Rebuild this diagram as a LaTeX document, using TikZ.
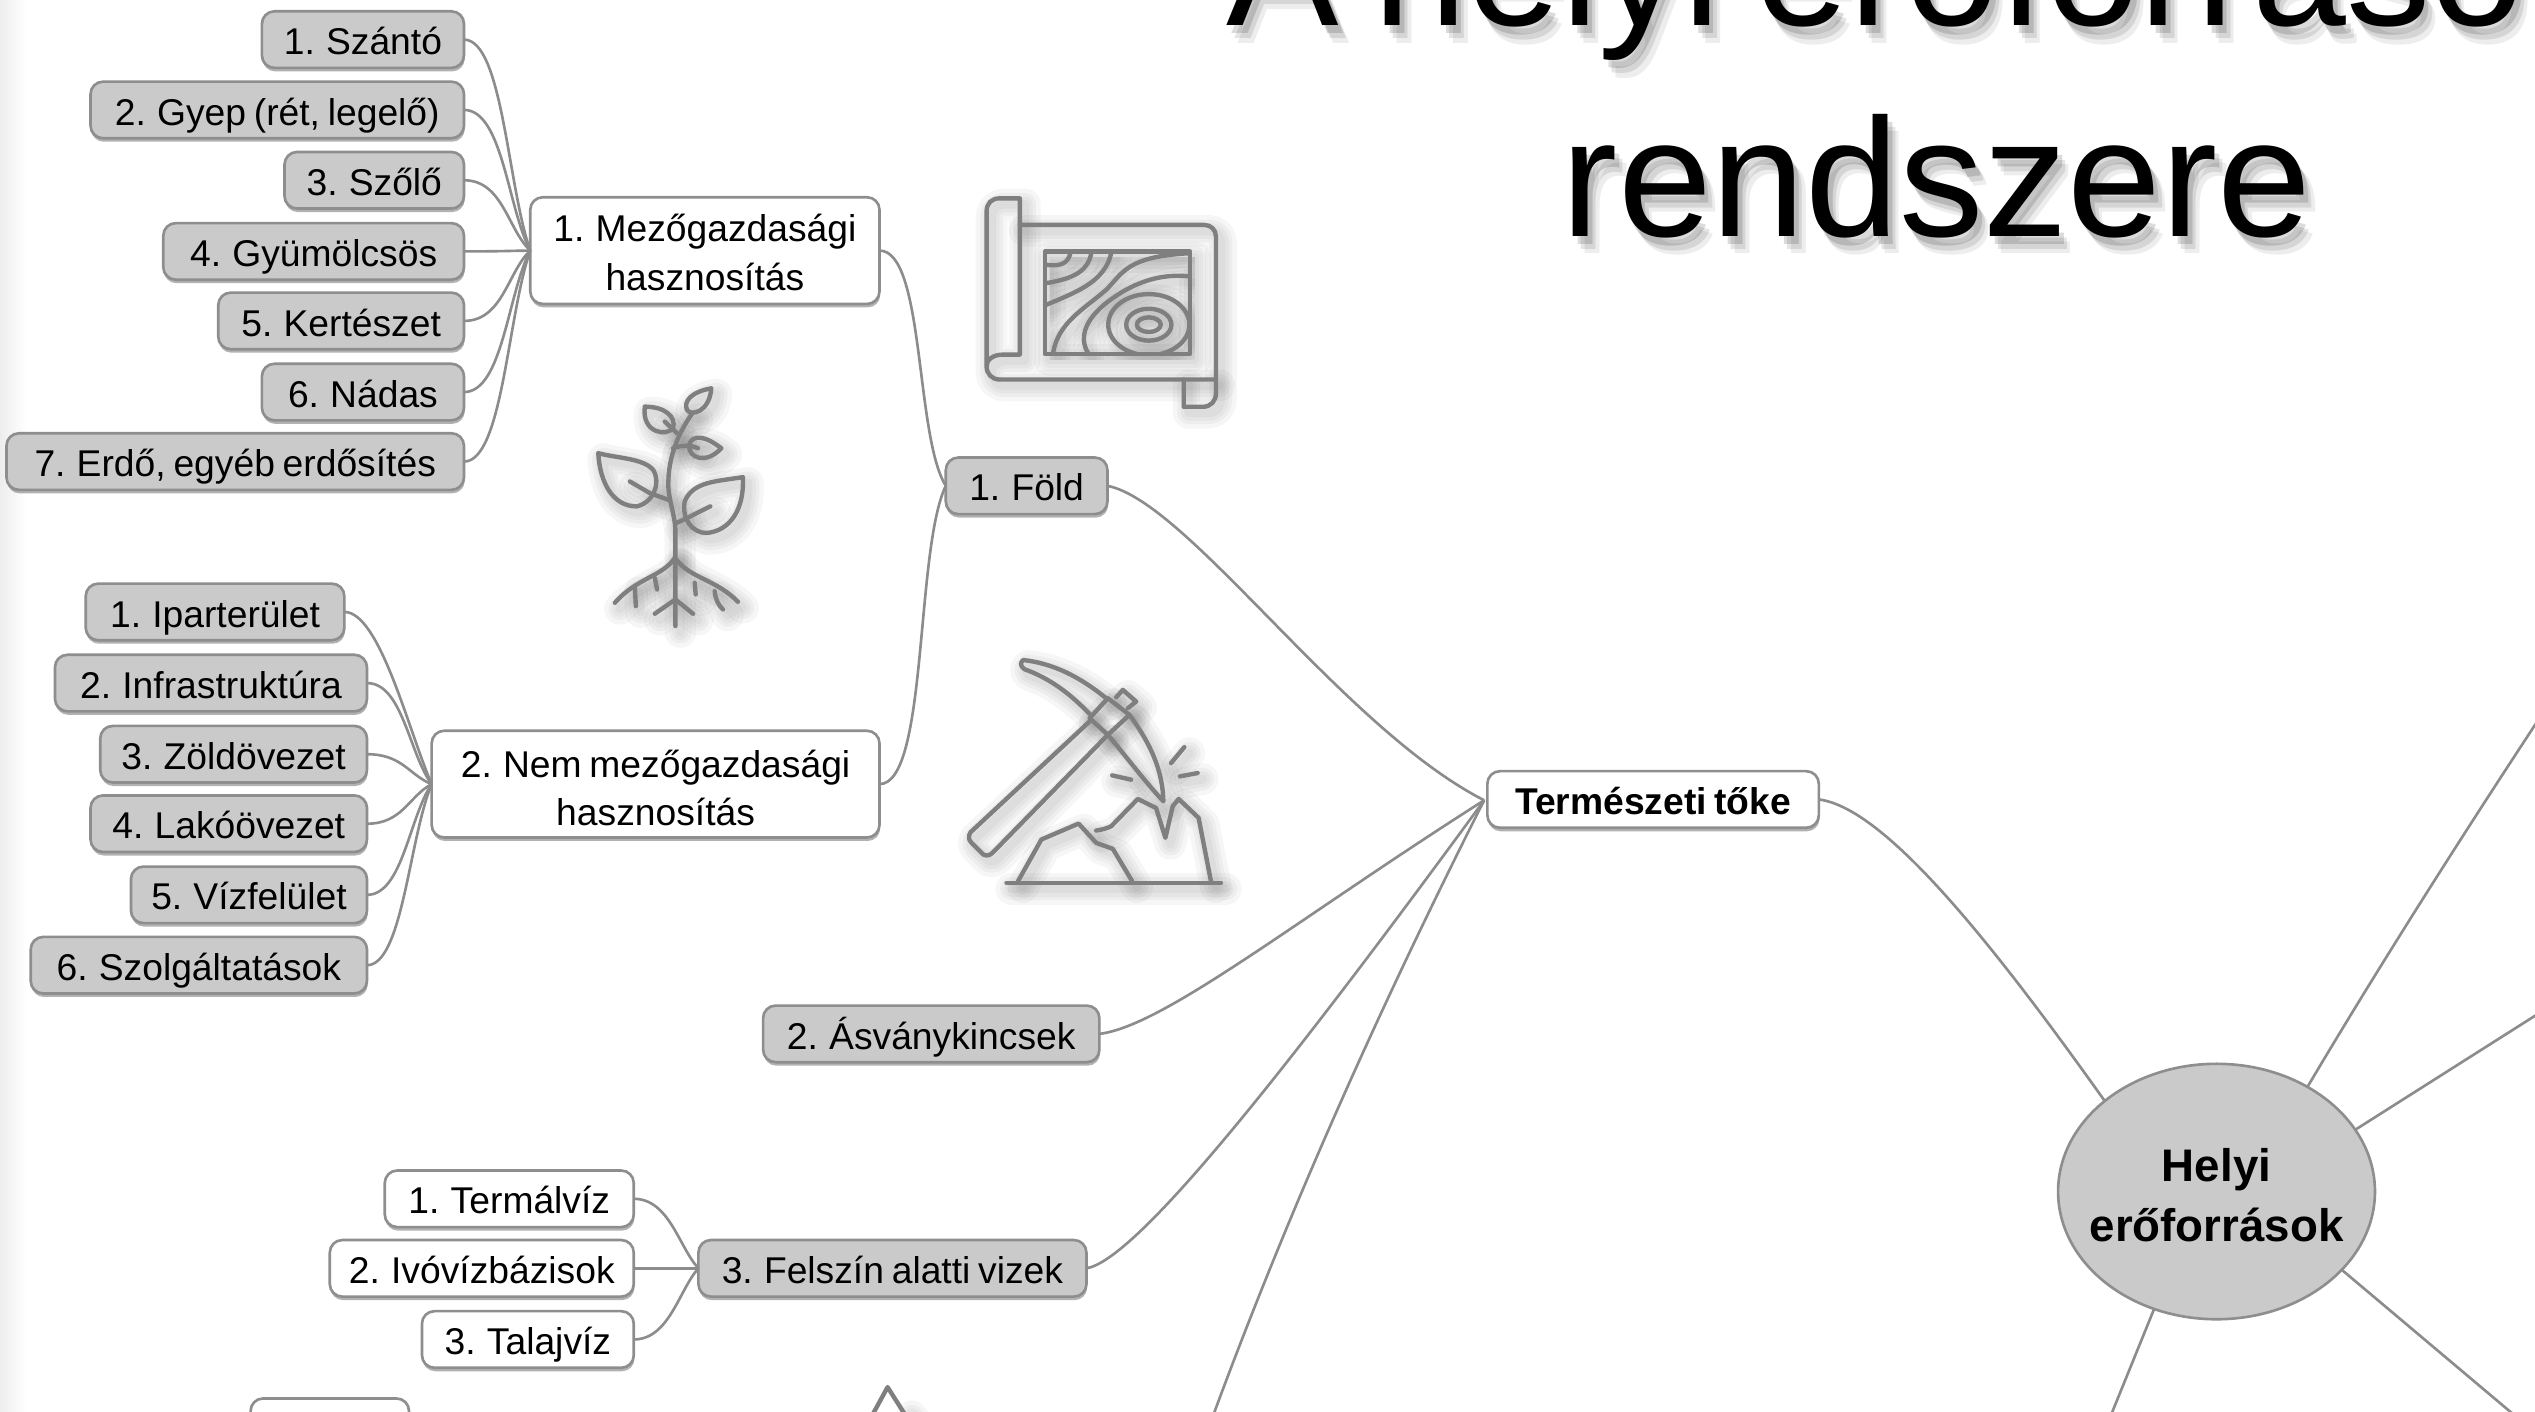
\documentclass[tikz,border=0pt]{standalone}
\usepackage{fontspec}
\setmainfont{Liberation Sans}[WordSpace=0.75]
\usetikzlibrary{shapes.geometric,shadows}
\def\un{0.016167cm}
\tikzset{
    basebox/.style={rectangle,rounded corners=1.25mm,draw=boxline,line width=0.75pt,minimum height=35*\un,inner xsep=2pt,inner ysep=1pt,outer sep=0pt,
        font=\fontsize{10.6}{13.8}\selectfont,text=black,align=center,
        drop shadow={shadow xshift=0.2pt,shadow yshift=-1pt,opacity=.3,fill=black}},
    greybox/.style={basebox,fill=boxgrey},
    whitebox/.style={basebox,fill=white},
    oneline/.style={text height=10pt,text depth=1.4pt},
    linkline/.style={draw=linkgrey,line width=0.75pt},
    iconline/.style={draw=icongrey,line width=1.25pt,line cap=round,line join=round}
}
\definecolor{boxgrey}{HTML}{CACACA}
\definecolor{boxline}{HTML}{8E8E8E}
\definecolor{linkgrey}{HTML}{8C8C8C}
\definecolor{icongrey}{HTML}{7F7F7F}
\newcommand{\softshadow}[1]{
    \foreach \w in {9,6.5,4.5,2.5}{
        \begin{scope}[shift={(15,18)},iconline/.style={draw=black,line width=\w pt,opacity=.035,line cap=round,line join=round}]
            #1
        \end{scope}
    }
    #1
}
\newcommand{\mapshape}{
    \draw[iconline] (210,165) -- (765,165) .. controls (785,165) and (800,180) .. (800,200) -- (800,670) .. controls (800,695) and (785,712) .. (760,712) -- (703,712) -- (703,630);
    \draw[iconline] (795,630) -- (150,630) .. controls (125,630) and (110,612) .. (110,590) -- (110,125) .. controls (110,100) and (125,85) .. (150,85) -- (210,85) -- (210,555) -- (160,555) .. controls (130,555) and (110,570) .. (110,590);
    \draw[iconline] (285,245) rectangle (722,553);
    \begin{scope}
        \clip (285,245) rectangle (722,553);
        \draw[iconline] (290,285) .. controls (335,290) and (355,280) .. (362,250);
        \draw[iconline] (290,340) .. controls (380,325) and (415,300) .. (425,250);
        \draw[iconline] (290,405) .. controls (400,360) and (465,330) .. (485,250);
        \draw[iconline] (310,550) .. controls (325,460) and (400,420) .. (470,360) .. controls (520,310) and (530,260) .. (722,250);
        \draw[iconline] (415,550) .. controls (385,500) and (410,440) .. (490,385) .. controls (560,335) and (640,310) .. (722,320);
        \draw[iconline] (598,465) ellipse [x radius=122,y radius=92];
        \draw[iconline] (598,465) ellipse [x radius=68,y radius=48];
        \draw[iconline] (598,465) ellipse [x radius=36,y radius=22];
    \end{scope}
}
\newcommand{\plantshape}{
    \draw[iconline] (347,770) -- (347,480) .. controls (345,430) and (322,380) .. (326,330) .. controls (328,260) and (355,190) .. (398,130);
    \draw[iconline] (455,55) .. controls (395,65) and (370,95) .. (382,120) .. controls (395,140) and (450,125) .. (455,55);
    \draw[iconline] (255,110) .. controls (315,110) and (350,140) .. (340,175) .. controls (320,200) and (245,190) .. (255,110);
    \draw[iconline] (352,190) -- (315,155);
    \draw[iconline] (485,235) .. controls (440,200) and (400,190) .. (388,225) .. controls (385,265) and (440,285) .. (485,235);
    \draw[iconline] (340,235) .. controls (370,225) and (390,225) .. (415,235);
    \draw[iconline] (115,250) .. controls (120,340) and (160,410) .. (230,410) .. controls (280,400) and (305,340) .. (280,300) .. controls (250,265) and (170,265) .. (115,250);
    \draw[iconline] (210,335) -- (270,370) -- (325,390);
    \draw[iconline] (550,322) .. controls (470,335) and (400,335) .. (375,395) .. controls (365,450) and (400,490) .. (440,490) .. controls (510,485) and (555,420) .. (550,322);
    \draw[iconline] (350,460) .. controls (385,445) and (420,425) .. (452,410);
    \draw[iconline] (345,565) .. controls (310,620) and (230,625) .. (165,700);
    \draw[iconline] (225,650) -- (228,710);
    \draw[iconline] (285,625) -- (292,660);
    \draw[iconline] (350,570) .. controls (390,625) and (470,630) .. (535,697);
    \draw[iconline] (405,640) -- (408,675);
    \draw[iconline] (465,665) .. controls (468,690) and (475,705) .. (490,720);
    \draw[iconline] (285,733) -- (347,690) -- (400,733);
}
\newcommand{\pickshape}{
    \draw[iconline] (450,245) -- (92,578) .. controls (85,590) and (85,600) .. (95,610) -- (130,645) .. controls (140,650) and (150,648) .. (158,640) -- (505,285);
    \draw[iconline] (450,235) -- (505,175) -- (570,225) -- (505,285) -- cycle;
    \draw[iconline] (530,172) -- (550,150) -- (590,185) -- (565,205);
    \draw[iconline] (500,175) .. controls (420,110) and (340,70) .. (250,60) .. controls (238,70) and (245,82) .. (255,88) .. controls (330,115) and (390,160) .. (450,222);
    \draw[iconline] (570,225) .. controls (640,320) and (670,400) .. (672,485) .. controls (620,430) and (560,350) .. (505,285);
    \draw[iconline] (695,370) -- (735,322);
    \draw[iconline] (722,410) -- (775,400);
    \draw[iconline] (518,407) -- (575,420);
    \draw[iconline] (200,730) -- (845,730);
    \draw[iconline] (235,725) -- (305,600) -- (417,552) -- (470,610) -- (520,628) -- (578,725);
    \draw[iconline] (470,573) .. controls (490,570) and (505,565) .. (515,560) -- (595,478) -- (650,505) -- (678,595) -- (700,500) -- (718,478) -- (778,535) -- (815,725);
}
\newcommand{\peakshape}{
    \draw[iconline] (537,880) -- (549,858) -- (563,880);
}
\begin{document}
\begin{tikzpicture}[x=0.016167cm,y=-0.016167cm]
    \useasboundingbox (0,0) rectangle (1568,873.36);
    \clip (0,0) rectangle (1568,873.36);

    \shade[left color=black!7,right color=white] (0,0) rectangle (16,873.36);

    \foreach \i/\dx/\dy/\op in {1/3/5/.14,2/5/8/.1,3/7/11/.07}{
        \node[anchor=center,align=center,opacity=\op,font=\fontsize{48}{60}\selectfont] (titleblur\i) at (1198+\dx,43+\dy) {\hspace*{-11pt}A helyi erőforrások\\rendszere};
    }
    \node[anchor=center,align=center,font=\fontsize{48}{60}\selectfont] (title) at (1198,43) {\hspace*{-11pt}A helyi erőforrások\\rendszere};

    \begin{scope}[shift={(587.6,105.2)},x=0.003333cm,y=-0.003333cm]
        \softshadow{\mapshape}
    \end{scope}
    \begin{scope}[shift={(346.4,228.9)},x=0.003333cm,y=-0.003333cm]
        \softshadow{\plantshape}
    \end{scope}
    \begin{scope}[shift={(581.4,395.9)},x=0.003333cm,y=-0.003333cm]
        \softshadow{\pickshape}
    \end{scope}
    \softshadow{\peakshape}

    \node[ellipse,fill=boxgrey,draw=boxline,line width=0.75pt,minimum width=196*\un,minimum height=158*\un,inner xsep=-4.4pt,inner ysep=0pt,outer sep=0pt,align=center,font=\fontsize{13}{17}\bfseries\selectfont] (helyi) at (1371,737) {\rule{0pt}{11.3pt}Helyi\\erőforrások};
    \node[whitebox,oneline,minimum width=205*\un,font=\fontsize{10.6}{13.8}\bfseries\selectfont] (termeszeti) at (1022.5,494.5) {Természeti tőke};
    \node[greybox,oneline,minimum width=100*\un] (fold) at (635,300.5) {1. Föld};
    \node[whitebox,minimum width=216*\un,minimum height=66*\un] (mezo) at (436,155) {\rule{0pt}{9pt}1. Mezőgazdasági\\hasznosítás};
    \node[whitebox,minimum width=277*\un,minimum height=66*\un] (nemmezo) at (405.5,485) {\rule{0pt}{10pt}2. Nem mezőgazdasági\\hasznosítás};
    \node[greybox,oneline,minimum width=208*\un] (asvany) at (576,639.5) {2. Ásványkincsek};
    \node[greybox,oneline,minimum width=240*\un] (felszin) at (552,784.5) {3. Felszín alatti vizek};
    \node[whitebox,minimum width=98*\un] (alsodoboz) at (204,882.5) {};

    \coordinate (hub) at (918,495);
    \coordinate (lefutas) at (748,882);
    \coordinate (jobbfent) at (1600,400);
    \coordinate (jobbkozep) at (1600,608);
    \coordinate (jobblent) at (1575,892);
    \coordinate (ballent) at (1303,882);

    \foreach \nm/\txt/\xl/\yc in {szanto/1. Szántó/162/24.5,gyep/{2. Gyep (rét, legelő)}/56/68,szolo/3. Szőlő/176/111.5,gyumolcsos/4. Gyümölcsös/101/155.5,kerteszet/5. Kertészet/135/198.5,nadas/6. Nádas/162/242.5,erdo/{7. Erdő, egyéb erdősítés}/4/285.5}{
        \node[greybox,oneline,anchor=east,minimum width={(287-\xl)*\un}] (\nm) at (287,\yc) {\txt};
        \draw[linkline] (\nm.east) .. controls +(24,0) and ([shift={(-14,{0.3*(\yc-155)})}]mezo.west) .. (mezo.west);
    }

    \foreach \nm/\txt/\xl/\xr/\yc in {ipar/1. Iparterület/53/213/378.5,infra/2. Infrastruktúra/34/227/422.5,zold/3. Zöldövezet/62/227/466.5,lako/4. Lakóövezet/56/227/509.5,viz/5. Vízfelület/81/227/553.5,szolg/6. Szolgáltatások/19/227/597}{
        \node[greybox,oneline,anchor=east,minimum width={(\xr-\xl)*\un}] (\nm) at (\xr,\yc) {\txt};
        \draw[linkline] (\nm.east) .. controls +(22,0) and ([shift={(-14,{0.3*(\yc-485)})}]nemmezo.west) .. (nemmezo.west);
    }

    \foreach \nm/\txt/\xl/\yc in {termal/1. Termálvíz/238/741.5,ivoviz/2. Ivóvízbázisok/204/784.5,talaj/3. Talajvíz/261/828.5}{
        \node[whitebox,oneline,anchor=east,minimum width={(392-\xl)*\un}] (\nm) at (392,\yc) {\txt};
        \draw[linkline] (\nm.east) .. controls +(22,0) and ([shift={(-12,{0.3*(\yc-784.5)})}]felszin.west) .. (felszin.west);
    }

    \draw[linkline] (mezo.east) .. controls +(28,0) and (566,270) .. (fold.west);
    \draw[linkline] (nemmezo.east) .. controls +(30,0) and (566,340) .. (fold.west);
    \draw[linkline] (fold.east) .. controls +(50,10) and (830,450) .. (hub);
    \draw[linkline] (asvany.east) .. controls +(40,-5) and (800,570) .. (hub);
    \draw[linkline] (felszin.east) .. controls +(30,-5) and (790,670) .. (hub);
    \draw[linkline] (lefutas) .. controls (800,740) and (860,610) .. (hub);
    \draw[linkline] (termeszeti.east) .. controls +(40,5) and (1230,580) .. (helyi.141);
    \draw[linkline] (helyi.49) .. controls (1470,600) and (1530,505) .. (jobbfent);
    \draw[linkline] (helyi.24) -- (jobbkozep);
    \draw[linkline] (helyi.-32) -- (jobblent);
    \draw[linkline] (helyi.-118) -- (ballent);
\end{tikzpicture}
\end{document}
